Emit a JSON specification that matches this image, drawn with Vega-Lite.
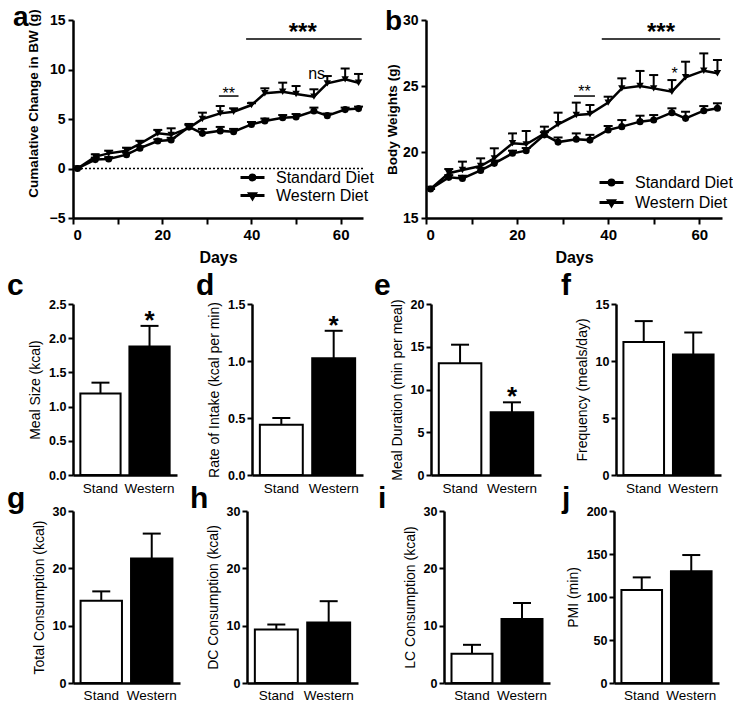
{
  "$schema": "https://vega.github.io/schema/vega-lite/v6.json",
  "padding": {"left": 7, "top": 3, "right": 0, "bottom": 0},
  "background": "white",
  "config": {
    "font": "Liberation Sans",
    "view": {"stroke": null},
    "axis": {"domainColor": "black", "domainWidth": 2.5, "tickColor": "black", "tickWidth": 2, "tickSize": 5, "labelColor": "black", "titleColor": "black", "grid": false, "labelFontWeight": "bold", "labelFont": "Liberation Sans", "titleFont": "Liberation Sans", "labelOverlap": false},
    "title": {"fontSize": 30, "fontWeight": "bold", "anchor": "start", "frame": "group", "baseline": "alphabetic", "offset": 0, "color": "black", "font": "Liberation Sans"}
  },
  "datasets": {
    "lines": [
      {"day": 1, "diet": "Standard Diet", "cum": 0, "cumHi": 0, "bw": 17.2, "bwHi": 17.2},
      {"day": 5, "diet": "Standard Diet", "cum": 0.9, "cumHi": 1.1, "bw": 18.08, "bwHi": 18.25},
      {"day": 8, "diet": "Standard Diet", "cum": 0.96, "cumHi": 1.15, "bw": 18.0, "bwHi": 18.2},
      {"day": 12, "diet": "Standard Diet", "cum": 1.4, "cumHi": 1.6, "bw": 18.6, "bwHi": 18.8},
      {"day": 15, "diet": "Standard Diet", "cum": 2.05, "cumHi": 2.25, "bw": 19.14, "bwHi": 19.35},
      {"day": 19, "diet": "Standard Diet", "cum": 2.78, "cumHi": 2.95, "bw": 19.9, "bwHi": 20.1},
      {"day": 22, "diet": "Standard Diet", "cum": 2.88, "cumHi": 3.1, "bw": 20.1, "bwHi": 20.3},
      {"day": 26, "diet": "Standard Diet", "cum": 4.2, "cumHi": 4.4, "bw": 21.3, "bwHi": 21.5},
      {"day": 29, "diet": "Standard Diet", "cum": 3.55, "cumHi": 4.0, "bw": 20.75, "bwHi": 21.1},
      {"day": 33, "diet": "Standard Diet", "cum": 3.8, "cumHi": 4.2, "bw": 20.96, "bwHi": 21.41},
      {"day": 36, "diet": "Standard Diet", "cum": 3.72, "cumHi": 4.0, "bw": 20.9, "bwHi": 21.3},
      {"day": 40, "diet": "Standard Diet", "cum": 4.45, "cumHi": 4.7, "bw": 21.67, "bwHi": 21.97},
      {"day": 43, "diet": "Standard Diet", "cum": 4.8, "cumHi": 5.05, "bw": 21.92, "bwHi": 22.42},
      {"day": 47, "diet": "Standard Diet", "cum": 5.12, "cumHi": 5.4, "bw": 22.3, "bwHi": 22.75},
      {"day": 50, "diet": "Standard Diet", "cum": 5.2, "cumHi": 5.5, "bw": 22.42, "bwHi": 22.8},
      {"day": 54, "diet": "Standard Diet", "cum": 5.8, "cumHi": 6.15, "bw": 22.98, "bwHi": 23.31},
      {"day": 57, "diet": "Standard Diet", "cum": 5.34, "cumHi": 5.55, "bw": 22.55, "bwHi": 23.05},
      {"day": 61, "diet": "Standard Diet", "cum": 5.95, "cumHi": 6.15, "bw": 23.13, "bwHi": 23.48},
      {"day": 64, "diet": "Standard Diet", "cum": 6.05, "cumHi": 6.25, "bw": 23.31, "bwHi": 23.69},
      {"day": 1, "diet": "Western Diet", "cum": 0, "cumHi": 0, "bw": 17.2, "bwHi": 17.2},
      {"day": 5, "diet": "Western Diet", "cum": 1.2, "cumHi": 1.43, "bw": 18.39, "bwHi": 18.71},
      {"day": 8, "diet": "Western Diet", "cum": 1.53, "cumHi": 1.8, "bw": 18.64, "bwHi": 19.27},
      {"day": 12, "diet": "Western Diet", "cum": 1.8, "cumHi": 2.1, "bw": 18.94, "bwHi": 19.52},
      {"day": 15, "diet": "Western Diet", "cum": 2.5, "cumHi": 2.8, "bw": 19.52, "bwHi": 20.28},
      {"day": 19, "diet": "Western Diet", "cum": 3.55, "cumHi": 3.9, "bw": 20.66, "bwHi": 21.41},
      {"day": 22, "diet": "Western Diet", "cum": 3.4, "cumHi": 4.06, "bw": 20.58, "bwHi": 21.59},
      {"day": 26, "diet": "Western Diet", "cum": 4.1, "cumHi": 4.5, "bw": 21.4, "bwHi": 21.92},
      {"day": 29, "diet": "Western Diet", "cum": 5.0, "cumHi": 5.64, "bw": 22.1, "bwHi": 22.98},
      {"day": 33, "diet": "Western Diet", "cum": 5.57, "cumHi": 6.31, "bw": 22.8, "bwHi": 23.74},
      {"day": 36, "diet": "Western Diet", "cum": 5.74, "cumHi": 6.08, "bw": 22.88, "bwHi": 23.56},
      {"day": 40, "diet": "Western Diet", "cum": 6.41, "cumHi": 6.6, "bw": 23.74, "bwHi": 24.19},
      {"day": 43, "diet": "Western Diet", "cum": 7.6, "cumHi": 8.1, "bw": 24.82, "bwHi": 25.58},
      {"day": 47, "diet": "Western Diet", "cum": 7.76, "cumHi": 8.67, "bw": 25.0, "bwHi": 26.14},
      {"day": 50, "diet": "Western Diet", "cum": 7.53, "cumHi": 8.33, "bw": 24.82, "bwHi": 25.83},
      {"day": 54, "diet": "Western Diet", "cum": 7.26, "cumHi": 8.0, "bw": 24.57, "bwHi": 25.45},
      {"day": 57, "diet": "Western Diet", "cum": 8.6, "cumHi": 9.34, "bw": 25.66, "bwHi": 26.84},
      {"day": 61, "diet": "Western Diet", "cum": 9.0, "cumHi": 10.1, "bw": 26.16, "bwHi": 27.47},
      {"day": 64, "diet": "Western Diet", "cum": 8.67, "cumHi": 9.55, "bw": 25.96, "bwHi": 26.97}
    ],
    "ann": [
      {"panel": "a", "x": 38.8, "x2": 64.7, "y": 13.08},
      {"panel": "a", "x": 32.7, "x2": 37.1, "y": 7.32},
      {"panel": "b", "x": 38.6, "x2": 64.6, "y": 28.56},
      {"panel": "b", "x": 32.5, "x2": 37.1, "y": 24.24}
    ],
    "labels": [
      {"panel": "a", "label": "***", "x": 51.5, "y": 13.0},
      {"panel": "a", "label": "**", "x": 34.9, "y": 7.06},
      {"panel": "a", "label": "ns", "x": 54.6, "y": 9.02},
      {"panel": "b", "label": "***", "x": 51.6, "y": 28.48},
      {"panel": "b", "label": "**", "x": 34.8, "y": 24.17},
      {"panel": "b", "label": "*", "x": 54.6, "y": 25.56}
    ],
    "bars": [
      {"panel": "c", "group": "Stand", "value": 1.19, "hi": 1.35},
      {"panel": "c", "group": "Western", "value": 1.88, "hi": 2.18, "starY": 2.13},
      {"panel": "d", "group": "Stand", "value": 0.44, "hi": 0.5},
      {"panel": "d", "group": "Western", "value": 1.025, "hi": 1.265, "starY": 1.24},
      {"panel": "e", "group": "Stand", "value": 13.06, "hi": 15.24},
      {"panel": "e", "group": "Western", "value": 7.33, "hi": 8.5, "starY": 8.13},
      {"panel": "f", "group": "Stand", "value": 11.67, "hi": 13.5},
      {"panel": "f", "group": "Western", "value": 10.57, "hi": 12.5},
      {"panel": "g", "group": "Stand", "value": 14.36, "hi": 15.98},
      {"panel": "g", "group": "Western", "value": 21.7, "hi": 26.06},
      {"panel": "h", "group": "Stand", "value": 9.32, "hi": 10.2},
      {"panel": "h", "group": "Western", "value": 10.54, "hi": 14.27},
      {"panel": "i", "group": "Stand", "value": 5.1, "hi": 6.66},
      {"panel": "i", "group": "Western", "value": 11.18, "hi": 13.95},
      {"panel": "j", "group": "Stand", "value": 108, "hi": 122.8},
      {"panel": "j", "group": "Western", "value": 130, "hi": 148.8}
    ]
  },
  "resolve": {"scale": {"shape": "independent"}, "legend": {"shape": "independent"}},
  "spacing": 6,
  "vconcat": [
    {
      "hconcat": [
        {
          "width": 290, "height": 198,
          "title": {"text": "a", "dx": -60, "dy": 27, "fontSize": 28},
          "layer": [
            {"data": {"values": [{}]}, "mark": {"type": "rule", "strokeDash": [2, 2], "strokeWidth": 1.5, "color": "black"},
             "encoding": {"y": {"datum": 0, "type": "quantitative", "scale": {"domain": [-5, 15], "nice": false, "zero": false}}}},
            {"data": {"name": "lines"}, "mark": {"type": "rule", "strokeWidth": 2, "color": "black"},
             "encoding": {
               "x": {"field": "day", "type": "quantitative", "scale": {"domain": [0, 65], "nice": false},
                     "axis": {"values": [0, 10, 20, 30, 40, 50, 60], "tickCount": 10, "labelExpr": "datum.value % 20 === 0 ? datum.label : ''", "title": "Days", "titleFontSize": 16, "titleFontWeight": "bold", "labelFontSize": 15, "labelPadding": 3, "titlePadding": 7, "tickSize": 6}},
               "y": {"field": "cum", "type": "quantitative", "scale": {"domain": [-5, 15], "nice": false, "zero": false},
                     "axis": {"values": [-5, 0, 5, 10, 15], "tickCount": 10, "title": "Cumalative Change in BW (g)", "titleFontSize": 13.5, "titleFontWeight": "bold", "labelFontSize": 14, "labelPadding": 3, "titlePadding": 9, "titleY": 83, "labelOverlap": false}},
               "y2": {"field": "cumHi"}}},
            {"data": {"name": "lines"}, "mark": {"type": "point", "shape": "stroke", "size": 81, "strokeWidth": 2, "color": "black", "opacity": 1},
             "encoding": {
               "x": {"field": "day", "type": "quantitative", "scale": {"domain": [0, 65], "nice": false}},
               "y": {"field": "cumHi", "type": "quantitative", "scale": {"domain": [-5, 15], "nice": false, "zero": false}}}},
            {"data": {"name": "lines"}, "mark": {"type": "line", "color": "black", "strokeWidth": 2.5},
             "encoding": {
               "x": {"field": "day", "type": "quantitative", "scale": {"domain": [0, 65], "nice": false}},
               "y": {"field": "cum", "type": "quantitative", "scale": {"domain": [-5, 15], "nice": false, "zero": false}},
               "detail": {"field": "diet", "type": "nominal"}}},
            {"data": {"name": "lines"}, "transform": [{"filter": "datum.diet == 'Standard Diet'"}], "mark": {"type": "point", "shape": "circle", "filled": true, "color": "black", "size": 50, "opacity": 1},
             "encoding": {
               "x": {"field": "day", "type": "quantitative", "scale": {"domain": [0, 65], "nice": false}},
               "y": {"field": "cum", "type": "quantitative", "scale": {"domain": [-5, 15], "nice": false, "zero": false}}}},
            {"data": {"name": "lines"}, "transform": [{"filter": "datum.diet == 'Western Diet'"}], "mark": {"type": "point", "shape": "triangle-down", "filled": true, "color": "black", "size": 55, "opacity": 1},
             "encoding": {
               "x": {"field": "day", "type": "quantitative", "scale": {"domain": [0, 65], "nice": false}},
               "y": {"field": "cum", "type": "quantitative", "scale": {"domain": [-5, 15], "nice": false, "zero": false}}}},
            {"data": {"name": "lines"}, "transform": [{"filter": "datum.day < 0"}], "mark": {"type": "point", "filled": false, "color": "black", "strokeWidth": 3, "opacity": 1},
             "encoding": {
               "x": {"field": "day", "type": "quantitative", "scale": {"domain": [0, 65], "nice": false}},
               "y": {"field": "cum", "type": "quantitative", "scale": {"domain": [-5, 15], "nice": false, "zero": false}},
               "shape": {"field": "diet", "type": "nominal", "scale": {"domain": ["Standard Diet", "Western Diet"], "range": ["M-1.5,0H1.5M0.3,0A0.3,0.3 0 1,1 -0.3,0A0.3,0.3 0 1,1 0.3,0Z", "M-1.5,0H1.5M-0.36,-0.22H0.36L0,0.38Z"]},
                         "legend": {"orient": "none", "legendX": 170, "legendY": 148, "title": null, "labelFontSize": 16, "labelFont": "Liberation Sans", "labelColor": "black", "symbolSize": 256, "symbolStrokeWidth": 3, "symbolStrokeColor": "black", "symbolOpacity": 1, "rowPadding": -2, "labelOffset": 14, "padding": 0}}}},
            {"data": {"name": "ann"}, "transform": [{"filter": "datum.panel == 'a'"}], "mark": {"type": "rule", "strokeWidth": 1.5, "color": "black"},
             "encoding": {
               "x": {"field": "x", "type": "quantitative", "scale": {"domain": [0, 65], "nice": false}},
               "x2": {"field": "x2"},
               "y": {"field": "y", "type": "quantitative", "scale": {"domain": [-5, 15], "nice": false, "zero": false}}}},
            {"data": {"name": "labels"}, "transform": [{"filter": "datum.panel == 'a' && datum.label == '***'"}], "mark": {"type": "text", "fontSize": 24, "fontWeight": "bold", "baseline": "alphabetic", "color": "black"},
             "encoding": {
               "x": {"field": "x", "type": "quantitative", "scale": {"domain": [0, 65], "nice": false}},
               "y": {"field": "y", "type": "quantitative", "scale": {"domain": [-5, 15], "nice": false, "zero": false}},
               "text": {"field": "label"}}},
            {"data": {"name": "labels"}, "transform": [{"filter": "datum.panel == 'a' && datum.label != '***'"}], "mark": {"type": "text", "fontSize": 16, "baseline": "alphabetic", "color": "black"},
             "encoding": {
               "x": {"field": "x", "type": "quantitative", "scale": {"domain": [0, 65], "nice": false}},
               "y": {"field": "y", "type": "quantitative", "scale": {"domain": [-5, 15], "nice": false, "zero": false}},
               "text": {"field": "label"}}}
          ]
        },
        {
          "width": 296, "height": 198,
          "title": {"text": "b", "dx": -41, "dy": 27, "fontSize": 28},
          "layer": [
            {"data": {"name": "lines"}, "mark": {"type": "rule", "strokeWidth": 2, "color": "black"},
             "encoding": {
               "x": {"field": "day", "type": "quantitative", "scale": {"domain": [0, 65], "nice": false},
                     "axis": {"values": [0, 10, 20, 30, 40, 50, 60], "tickCount": 10, "labelExpr": "datum.value % 20 === 0 ? datum.label : ''", "title": "Days", "titleFontSize": 16, "titleFontWeight": "bold", "labelFontSize": 15, "labelPadding": 3, "titlePadding": 7, "tickSize": 6}},
               "y": {"field": "bw", "type": "quantitative", "scale": {"domain": [15, 30], "nice": false, "zero": false},
                     "axis": {"values": [15, 20, 25, 30], "tickCount": 10, "title": "Body Weights (g)", "titleFontSize": 13.5, "titleFontWeight": "bold", "labelFontSize": 14, "labelPadding": 3, "titlePadding": 3, "labelOverlap": false}},
               "y2": {"field": "bwHi"}}},
            {"data": {"name": "lines"}, "mark": {"type": "point", "shape": "stroke", "size": 81, "strokeWidth": 2, "color": "black", "opacity": 1},
             "encoding": {
               "x": {"field": "day", "type": "quantitative", "scale": {"domain": [0, 65], "nice": false}},
               "y": {"field": "bwHi", "type": "quantitative", "scale": {"domain": [15, 30], "nice": false, "zero": false}}}},
            {"data": {"name": "lines"}, "mark": {"type": "line", "color": "black", "strokeWidth": 2.5},
             "encoding": {
               "x": {"field": "day", "type": "quantitative", "scale": {"domain": [0, 65], "nice": false}},
               "y": {"field": "bw", "type": "quantitative", "scale": {"domain": [15, 30], "nice": false, "zero": false}},
               "detail": {"field": "diet", "type": "nominal"}}},
            {"data": {"name": "lines"}, "transform": [{"filter": "datum.diet == 'Standard Diet'"}], "mark": {"type": "point", "shape": "circle", "filled": true, "color": "black", "size": 50, "opacity": 1},
             "encoding": {
               "x": {"field": "day", "type": "quantitative", "scale": {"domain": [0, 65], "nice": false}},
               "y": {"field": "bw", "type": "quantitative", "scale": {"domain": [15, 30], "nice": false, "zero": false}}}},
            {"data": {"name": "lines"}, "transform": [{"filter": "datum.diet == 'Western Diet'"}], "mark": {"type": "point", "shape": "triangle-down", "filled": true, "color": "black", "size": 55, "opacity": 1},
             "encoding": {
               "x": {"field": "day", "type": "quantitative", "scale": {"domain": [0, 65], "nice": false}},
               "y": {"field": "bw", "type": "quantitative", "scale": {"domain": [15, 30], "nice": false, "zero": false}}}},
            {"data": {"name": "lines"}, "transform": [{"filter": "datum.day < 0"}], "mark": {"type": "point", "filled": false, "color": "black", "strokeWidth": 3, "opacity": 1},
             "encoding": {
               "x": {"field": "day", "type": "quantitative", "scale": {"domain": [0, 65], "nice": false}},
               "y": {"field": "bw", "type": "quantitative", "scale": {"domain": [15, 30], "nice": false, "zero": false}},
               "shape": {"field": "diet", "type": "nominal", "scale": {"domain": ["Standard Diet", "Western Diet"], "range": ["M-1.5,0H1.5M0.3,0A0.3,0.3 0 1,1 -0.3,0A0.3,0.3 0 1,1 0.3,0Z", "M-1.5,0H1.5M-0.36,-0.22H0.36L0,0.38Z"]},
                         "legend": {"orient": "none", "legendX": 176, "legendY": 153, "title": null, "labelFontSize": 16, "labelFont": "Liberation Sans", "labelColor": "black", "symbolSize": 256, "symbolStrokeWidth": 3, "symbolStrokeColor": "black", "symbolOpacity": 1, "rowPadding": 2, "labelOffset": 14, "padding": 0}}}},
            {"data": {"name": "ann"}, "transform": [{"filter": "datum.panel == 'b'"}], "mark": {"type": "rule", "strokeWidth": 1.5, "color": "black"},
             "encoding": {
               "x": {"field": "x", "type": "quantitative", "scale": {"domain": [0, 65], "nice": false}},
               "x2": {"field": "x2"},
               "y": {"field": "y", "type": "quantitative", "scale": {"domain": [15, 30], "nice": false, "zero": false}}}},
            {"data": {"name": "labels"}, "transform": [{"filter": "datum.panel == 'b' && datum.label == '***'"}], "mark": {"type": "text", "fontSize": 24, "fontWeight": "bold", "baseline": "alphabetic", "color": "black"},
             "encoding": {
               "x": {"field": "x", "type": "quantitative", "scale": {"domain": [0, 65], "nice": false}},
               "y": {"field": "y", "type": "quantitative", "scale": {"domain": [15, 30], "nice": false, "zero": false}},
               "text": {"field": "label"}}},
            {"data": {"name": "labels"}, "transform": [{"filter": "datum.panel == 'b' && datum.label != '***'"}], "mark": {"type": "text", "fontSize": 16, "baseline": "alphabetic", "color": "black"},
             "encoding": {
               "x": {"field": "x", "type": "quantitative", "scale": {"domain": [0, 65], "nice": false}},
               "y": {"field": "y", "type": "quantitative", "scale": {"domain": [15, 30], "nice": false, "zero": false}},
               "text": {"field": "label"}}}
          ]
        }
      ],
      "spacing": 11,
      "resolve": {"scale": {"shape": "independent"}, "legend": {"shape": "independent"}}
    },
    {
      "vconcat": [
        {
          "hconcat": [
            {
              "hconcat": [
                {
                  "width": 104, "height": 171,
                  "title": {"text": "c", "dx": -66, "dy": 7},
                  "data": {"name": "bars"}, "transform": [{"filter": "datum.panel == 'c'"}],
                  "encoding": {"x": {"field": "group", "type": "nominal", "sort": ["Stand", "Western"], "scale": {"paddingInner": 0.18, "paddingOuter": 0.15}, "axis": {"title": null, "labelAngle": 0, "ticks": false, "labelFontWeight": "normal", "labelFontSize": 13.5, "labelPadding": 6}}},
                  "layer": [
                    {"mark": {"type": "bar", "stroke": "black", "strokeWidth": 2}, "encoding": {"y": {"field": "value", "type": "quantitative", "scale": {"domain": [0, 2.5], "nice": false}, "axis": {"values": [0, 0.5, 1, 1.5, 2, 2.5], "tickCount": 10, "format": ".1f", "title": "Meal Size (kcal)", "titleFontWeight": "normal", "titleFontSize": 14, "labelFontSize": 12.5, "titlePadding": 6, "labelPadding": 2, "labelOverlap": false}}, "fill": {"field": "group", "type": "nominal", "scale": {"domain": ["Stand", "Western"], "range": ["white", "black"]}, "legend": null}}},
                    {"mark": {"type": "rule", "strokeWidth": 2, "color": "black"}, "encoding": {"y": {"field": "value", "type": "quantitative"}, "y2": {"field": "hi"}}},
                    {"mark": {"type": "point", "shape": "stroke", "size": 324, "strokeWidth": 2, "color": "black", "opacity": 1}, "encoding": {"y": {"field": "hi", "type": "quantitative"}}},
                    {"transform": [{"filter": "isValid(datum.starY)"}], "mark": {"type": "text", "text": "*", "fontSize": 26, "fontWeight": "bold", "baseline": "alphabetic", "color": "black"}, "encoding": {"y": {"field": "starY", "type": "quantitative"}}}
                  ]
                },
                {
                  "width": 111, "height": 171,
                  "title": {"text": "d", "dx": -56, "dy": 7},
                  "data": {"name": "bars"}, "transform": [{"filter": "datum.panel == 'd'"}],
                  "encoding": {"x": {"field": "group", "type": "nominal", "sort": ["Stand", "Western"], "scale": {"paddingInner": 0.18, "paddingOuter": 0.15}, "axis": {"title": null, "labelAngle": 0, "ticks": false, "labelFontWeight": "normal", "labelFontSize": 13.5, "labelPadding": 6}}},
                  "layer": [
                    {"mark": {"type": "bar", "stroke": "black", "strokeWidth": 2}, "encoding": {"y": {"field": "value", "type": "quantitative", "scale": {"domain": [0, 1.5], "nice": false}, "axis": {"values": [0, 0.5, 1, 1.5], "tickCount": 10, "format": ".1f", "title": "Rate of Intake (kcal per min)", "titleFontWeight": "normal", "titleFontSize": 14, "labelFontSize": 12.5, "titlePadding": 6, "labelPadding": 2, "labelOverlap": false}}, "fill": {"field": "group", "type": "nominal", "scale": {"domain": ["Stand", "Western"], "range": ["white", "black"]}, "legend": null}}},
                    {"mark": {"type": "rule", "strokeWidth": 2, "color": "black"}, "encoding": {"y": {"field": "value", "type": "quantitative"}, "y2": {"field": "hi"}}},
                    {"mark": {"type": "point", "shape": "stroke", "size": 324, "strokeWidth": 2, "color": "black", "opacity": 1}, "encoding": {"y": {"field": "hi", "type": "quantitative"}}},
                    {"transform": [{"filter": "isValid(datum.starY)"}], "mark": {"type": "text", "text": "*", "fontSize": 26, "fontWeight": "bold", "baseline": "alphabetic", "color": "black"}, "encoding": {"y": {"field": "starY", "type": "quantitative"}}}
                  ]
                }
              ],
              "spacing": 19
            },
            {
              "hconcat": [
                {
                  "width": 110, "height": 171,
                  "title": {"text": "e", "dx": -57, "dy": 7},
                  "data": {"name": "bars"}, "transform": [{"filter": "datum.panel == 'e'"}],
                  "encoding": {"x": {"field": "group", "type": "nominal", "sort": ["Stand", "Western"], "scale": {"paddingInner": 0.18, "paddingOuter": 0.15}, "axis": {"title": null, "labelAngle": 0, "ticks": false, "labelFontWeight": "normal", "labelFontSize": 13.5, "labelPadding": 6}}},
                  "layer": [
                    {"mark": {"type": "bar", "stroke": "black", "strokeWidth": 2}, "encoding": {"y": {"field": "value", "type": "quantitative", "scale": {"domain": [0, 20], "nice": false}, "axis": {"values": [0, 5, 10, 15, 20], "tickCount": 10, "title": "Meal Duration (min per meal)", "titleFontWeight": "normal", "titleFontSize": 14, "labelFontSize": 12.5, "titlePadding": 6, "labelPadding": 2, "labelOverlap": false}}, "fill": {"field": "group", "type": "nominal", "scale": {"domain": ["Stand", "Western"], "range": ["white", "black"]}, "legend": null}}},
                    {"mark": {"type": "rule", "strokeWidth": 2, "color": "black"}, "encoding": {"y": {"field": "value", "type": "quantitative"}, "y2": {"field": "hi"}}},
                    {"mark": {"type": "point", "shape": "stroke", "size": 324, "strokeWidth": 2, "color": "black", "opacity": 1}, "encoding": {"y": {"field": "hi", "type": "quantitative"}}},
                    {"transform": [{"filter": "isValid(datum.starY)"}], "mark": {"type": "text", "text": "*", "fontSize": 26, "fontWeight": "bold", "baseline": "alphabetic", "color": "black"}, "encoding": {"y": {"field": "starY", "type": "quantitative"}}}
                  ]
                },
                {
                  "width": 105, "height": 171,
                  "title": {"text": "f", "dx": -55, "dy": 7},
                  "data": {"name": "bars"}, "transform": [{"filter": "datum.panel == 'f'"}],
                  "encoding": {"x": {"field": "group", "type": "nominal", "sort": ["Stand", "Western"], "scale": {"paddingInner": 0.18, "paddingOuter": 0.15}, "axis": {"title": null, "labelAngle": 0, "ticks": false, "labelFontWeight": "normal", "labelFontSize": 13.5, "labelPadding": 6}}},
                  "layer": [
                    {"mark": {"type": "bar", "stroke": "black", "strokeWidth": 2}, "encoding": {"y": {"field": "value", "type": "quantitative", "scale": {"domain": [0, 15], "nice": false}, "axis": {"values": [0, 5, 10, 15], "tickCount": 10, "title": "Frequency (meals/day)", "titleFontWeight": "normal", "titleFontSize": 14, "labelFontSize": 12.5, "titlePadding": 6, "labelPadding": 2, "labelOverlap": false}}, "fill": {"field": "group", "type": "nominal", "scale": {"domain": ["Stand", "Western"], "range": ["white", "black"]}, "legend": null}}},
                    {"mark": {"type": "rule", "strokeWidth": 2, "color": "black"}, "encoding": {"y": {"field": "value", "type": "quantitative"}, "y2": {"field": "hi"}}},
                    {"mark": {"type": "point", "shape": "stroke", "size": 324, "strokeWidth": 2, "color": "black", "opacity": 1}, "encoding": {"y": {"field": "hi", "type": "quantitative"}}}
                  ]
                }
              ],
              "spacing": 20
            }
          ],
          "spacing": 11
        },
        {
          "hconcat": [
            {
              "hconcat": [
                {
                  "width": 107, "height": 172,
                  "title": {"text": "g", "dx": -66, "dy": 13},
                  "data": {"name": "bars"}, "transform": [{"filter": "datum.panel == 'g'"}],
                  "encoding": {"x": {"field": "group", "type": "nominal", "sort": ["Stand", "Western"], "scale": {"paddingInner": 0.18, "paddingOuter": 0.15}, "axis": {"title": null, "labelAngle": 0, "ticks": false, "labelFontWeight": "normal", "labelFontSize": 13.5, "labelPadding": 5}}},
                  "layer": [
                    {"mark": {"type": "bar", "stroke": "black", "strokeWidth": 2}, "encoding": {"y": {"field": "value", "type": "quantitative", "scale": {"domain": [0, 30], "nice": false}, "axis": {"values": [0, 10, 20, 30], "tickCount": 10, "title": "Total Consumption (kcal)", "titleFontWeight": "normal", "titleFontSize": 14, "labelFontSize": 12.5, "titlePadding": 6, "labelPadding": 2, "labelOverlap": false}}, "fill": {"field": "group", "type": "nominal", "scale": {"domain": ["Stand", "Western"], "range": ["white", "black"]}, "legend": null}}},
                    {"mark": {"type": "rule", "strokeWidth": 2, "color": "black"}, "encoding": {"y": {"field": "value", "type": "quantitative"}, "y2": {"field": "hi"}}},
                    {"mark": {"type": "point", "shape": "stroke", "size": 324, "strokeWidth": 2, "color": "black", "opacity": 1}, "encoding": {"y": {"field": "hi", "type": "quantitative"}}}
                  ]
                },
                {
                  "width": 111, "height": 172,
                  "title": {"text": "h", "dx": -57, "dy": 13},
                  "data": {"name": "bars"}, "transform": [{"filter": "datum.panel == 'h'"}],
                  "encoding": {"x": {"field": "group", "type": "nominal", "sort": ["Stand", "Western"], "scale": {"paddingInner": 0.18, "paddingOuter": 0.15}, "axis": {"title": null, "labelAngle": 0, "ticks": false, "labelFontWeight": "normal", "labelFontSize": 13.5, "labelPadding": 5}}},
                  "layer": [
                    {"mark": {"type": "bar", "stroke": "black", "strokeWidth": 2}, "encoding": {"y": {"field": "value", "type": "quantitative", "scale": {"domain": [0, 30], "nice": false}, "axis": {"values": [0, 10, 20, 30], "tickCount": 10, "title": "DC Consumption (kcal)", "titleFontWeight": "normal", "titleFontSize": 14, "labelFontSize": 12.5, "titlePadding": 6, "labelPadding": 2, "labelOverlap": false}}, "fill": {"field": "group", "type": "nominal", "scale": {"domain": ["Stand", "Western"], "range": ["white", "black"]}, "legend": null}}},
                    {"mark": {"type": "rule", "strokeWidth": 2, "color": "black"}, "encoding": {"y": {"field": "value", "type": "quantitative"}, "y2": {"field": "hi"}}},
                    {"mark": {"type": "point", "shape": "stroke", "size": 324, "strokeWidth": 2, "color": "black", "opacity": 1}, "encoding": {"y": {"field": "hi", "type": "quantitative"}}}
                  ]
                }
              ],
              "spacing": 10
            },
            {
              "hconcat": [
                {
                  "width": 106, "height": 172,
                  "title": {"text": "i", "dx": -66, "dy": 13},
                  "data": {"name": "bars"}, "transform": [{"filter": "datum.panel == 'i'"}],
                  "encoding": {"x": {"field": "group", "type": "nominal", "sort": ["Stand", "Western"], "scale": {"paddingInner": 0.18, "paddingOuter": 0.15}, "axis": {"title": null, "labelAngle": 0, "ticks": false, "labelFontWeight": "normal", "labelFontSize": 13.5, "labelPadding": 5}}},
                  "layer": [
                    {"mark": {"type": "bar", "stroke": "black", "strokeWidth": 2}, "encoding": {"y": {"field": "value", "type": "quantitative", "scale": {"domain": [0, 30], "nice": false}, "axis": {"values": [0, 10, 20, 30], "tickCount": 10, "title": "LC Consumption (kcal)", "titleFontWeight": "normal", "titleFontSize": 14, "labelFontSize": 12.5, "titlePadding": 6, "labelPadding": 2, "labelOverlap": false}}, "fill": {"field": "group", "type": "nominal", "scale": {"domain": ["Stand", "Western"], "range": ["white", "black"]}, "legend": null}}},
                    {"mark": {"type": "rule", "strokeWidth": 2, "color": "black"}, "encoding": {"y": {"field": "value", "type": "quantitative"}, "y2": {"field": "hi"}}},
                    {"mark": {"type": "point", "shape": "stroke", "size": 324, "strokeWidth": 2, "color": "black", "opacity": 1}, "encoding": {"y": {"field": "hi", "type": "quantitative"}}}
                  ]
                },
                {
                  "width": 105, "height": 172,
                  "title": {"text": "j", "dx": -52, "dy": 13},
                  "data": {"name": "bars"}, "transform": [{"filter": "datum.panel == 'j'"}],
                  "encoding": {"x": {"field": "group", "type": "nominal", "sort": ["Stand", "Western"], "scale": {"paddingInner": 0.18, "paddingOuter": 0.15}, "axis": {"title": null, "labelAngle": 0, "ticks": false, "labelFontWeight": "normal", "labelFontSize": 13.5, "labelPadding": 5}}},
                  "layer": [
                    {"mark": {"type": "bar", "stroke": "black", "strokeWidth": 2}, "encoding": {"y": {"field": "value", "type": "quantitative", "scale": {"domain": [0, 200], "nice": false}, "axis": {"values": [0, 50, 100, 150, 200], "tickCount": 10, "title": "PMI (min)", "titleFontWeight": "normal", "titleFontSize": 14, "labelFontSize": 12.5, "titlePadding": 6, "labelPadding": 2, "labelOverlap": false}}, "fill": {"field": "group", "type": "nominal", "scale": {"domain": ["Stand", "Western"], "range": ["white", "black"]}, "legend": null}}},
                    {"mark": {"type": "rule", "strokeWidth": 2, "color": "black"}, "encoding": {"y": {"field": "value", "type": "quantitative"}, "y2": {"field": "hi"}}},
                    {"mark": {"type": "point", "shape": "stroke", "size": 324, "strokeWidth": 2, "color": "black", "opacity": 1}, "encoding": {"y": {"field": "hi", "type": "quantitative"}}}
                  ]
                }
              ],
              "spacing": 12
            }
          ],
          "spacing": 20
        }
      ],
      "spacing": -11
    }
  ]
}
